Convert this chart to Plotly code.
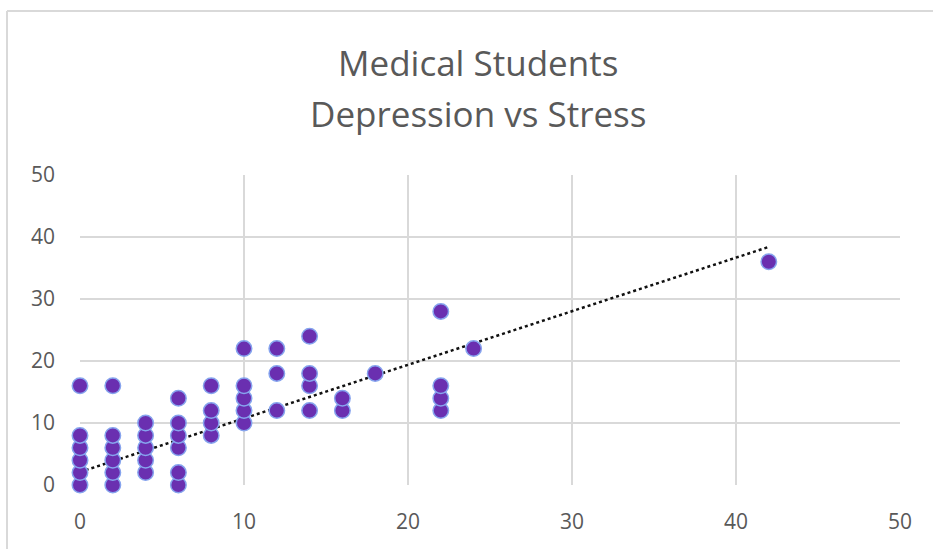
import plotly.graph_objects as go

# Stress scores (x) and depression scores (y) for each student
stress = [0, 0, 0, 0, 0, 0,
          2, 2, 2, 2, 2, 2,
          4, 4, 4, 4, 4,
          6, 6, 6, 6, 6, 6,
          8, 8, 8, 8,
          10, 10, 10, 10, 10,
          12, 12, 12,
          14, 14, 14, 14,
          16, 16,
          18,
          22, 22, 22, 22,
          24,
          42]
depression = [0, 2, 4, 6, 8, 16,
              0, 2, 4, 6, 8, 16,
              2, 4, 6, 8, 10,
              0, 2, 6, 8, 10, 14,
              8, 10, 12, 16,
              10, 12, 14, 16, 22,
              12, 18, 22,
              12, 16, 18, 24,
              12, 14,
              18,
              12, 14, 16, 28,
              22,
              36]

# Linear trendline endpoints
trend_x = [0, 42]
trend_y = [2.1, 38.4]

tick_vals = [0, 10, 20, 30, 40, 50]
tick_text = ["0", "10", "20", "30", "40", "50"]

title_lines = ["Medical Students", "Depression vs Stress"]

grid = "#d9d9d9"
text_col = "#595959"
font_family = "'Open Sans', sans-serif"

fig = go.Figure()
fig.add_trace(go.Scatter(
    x=trend_x, y=trend_y, mode="lines",
    line=dict(color="#111111", width=2.5, dash="dot"),
    hoverinfo="skip", showlegend=False, cliponaxis=False,
))
fig.add_trace(go.Scatter(
    x=stress, y=depression, mode="markers",
    marker=dict(size=15.5, color="#6a2fb0",
                line=dict(color="#86a4ee", width=1.5)),
    showlegend=False, cliponaxis=False,
))

axis_common = dict(
    range=[0, 50], tickvals=tick_vals, ticktext=tick_text,
    showgrid=True, gridcolor=grid, gridwidth=1.5,
    zeroline=False, showline=False,
    tickfont=dict(family=font_family, size=21, color=text_col),
    ticks="", fixedrange=True,
)
fig.update_xaxes(ticklabelstandoff=22, **axis_common)
fig.update_yaxes(ticklabelstandoff=24, **axis_common)

fig.update_layout(
    width=933, height=549,
    margin=dict(l=80, r=33, t=175, b=64),
    paper_bgcolor="white", plot_bgcolor="white",
    annotations=[
        dict(text=title_lines[0], xref="paper", yref="paper",
             x=(478 - 80) / 820, y=(485 - 63) / 310,
             xanchor="center", yanchor="middle", showarrow=False,
             font=dict(family=font_family, size=35, color=text_col)),
        dict(text=title_lines[1], xref="paper", yref="paper",
             x=(478 - 80) / 820, y=(485 - 113) / 310,
             xanchor="center", yanchor="middle", showarrow=False,
             font=dict(family=font_family, size=35, color=text_col)),
    ],
    shapes=[
        # chart frame (left and top edges)
        dict(type="line", xref="paper", yref="paper",
             x0=(7 - 80) / 820, x1=(933 - 80) / 820,
             y0=(485 - 11) / 310, y1=(485 - 11) / 310,
             line=dict(color=grid, width=2), layer="below"),
        dict(type="line", xref="paper", yref="paper",
             x0=(7 - 80) / 820, x1=(7 - 80) / 820,
             y0=(485 - 11) / 310, y1=(485 - 549) / 310,
             line=dict(color=grid, width=2), layer="below"),
    ],
)

fig.write_html("out.html")
